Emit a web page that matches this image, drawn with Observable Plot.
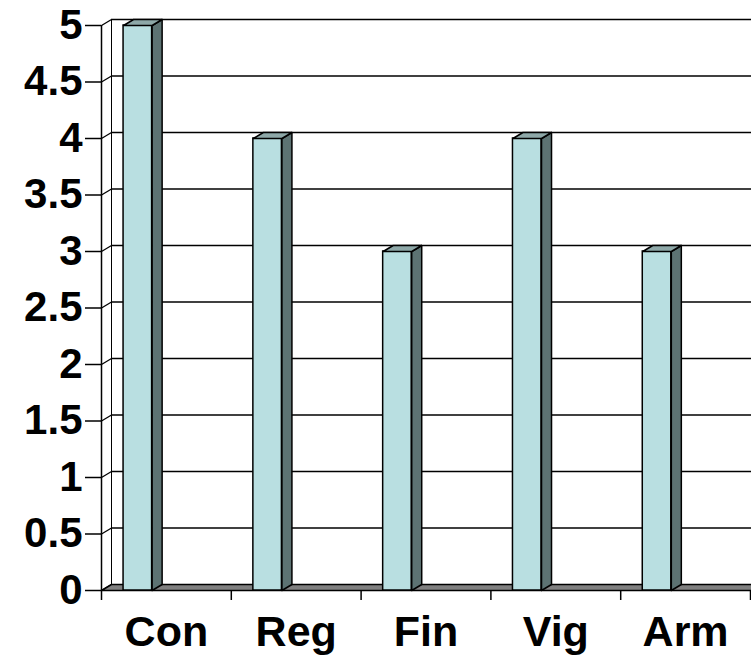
<!DOCTYPE html>
<html><head><meta charset="utf-8">
<script src="https://cdn.jsdelivr.net/npm/d3@7"></script>
<script src="https://cdn.jsdelivr.net/npm/@observablehq/plot@0.6"></script>
<style>body{margin:0;background:#fff} svg{display:block}</style>
</head><body><div id="chart"></div>
<script>
const categories = ["Con", "Reg", "Fin", "Vig", "Arm"];
const values = [5, 4, 3, 4, 3];
const yTicks = [0, 0.5, 1, 1.5, 2, 2.5, 3, 3.5, 4, 4.5, 5];
const yTickLabels = ["0", "0.5", "1", "1.5", "2", "2.5", "3", "3.5", "4", "4.5", "5"];

// layout / style constants
const W = 751, H = 657, ML = 101, MR = 1, MT = 25, MB = 67;
const DEPTH_PX = 10, DEPTH_PY = 6;
const BAR_FROM = 0.17, BAR_TO = 0.39;
const yMax = 5;
const n = categories.length;
const dX = DEPTH_PX / ((W - ML - MR) / n);
const dY = DEPTH_PY / ((H - MT - MB) / yMax);

const bars = categories.map((c, i) => ({c, i, v: values[i], x1: i + BAR_FROM, x2: i + BAR_TO}));
const sidePts = bars.flatMap(b => [
  {id: b.c, x: b.x2, y: 0}, {id: b.c, x: b.x2, y: b.v},
  {id: b.c, x: b.x2 + dX, y: b.v + dY}, {id: b.c, x: b.x2 + dX, y: dY}]);
const topPts = bars.flatMap(b => [
  {id: b.c, x: b.x1, y: b.v}, {id: b.c, x: b.x2, y: b.v},
  {id: b.c, x: b.x2 + dX, y: b.v + dY}, {id: b.c, x: b.x1 + dX, y: b.v + dY}]);
const floorPts = [{x: 0, y: 0}, {x: n + 1, y: 0}, {x: n + 1 + dX, y: dY}, {x: dX, y: dY}];

const plot = Plot.plot({
  width: W, height: H,
  marginLeft: ML, marginRight: MR, marginTop: MT, marginBottom: MB,
  style: {fontFamily: "'Liberation Sans', Arial, sans-serif", color: "black", background: "white", overflow: "hidden"},
  x: {type: "linear", domain: [0, n], label: null},
  y: {domain: [0, yMax], label: null},
  marks: [
    // back wall gridlines
    Plot.ruleY(yTicks.slice(1), {y: d => d + dY, x1: dX, x2: n + 1, stroke: "black", strokeWidth: 1.3}),
    // back wall left edge
    Plot.ruleX([dX], {y1: dY, y2: yMax + dY, stroke: "black", strokeWidth: 1}),
    // left wall diagonals
    Plot.link(yTicks, {x1: 0, y1: d => d, x2: dX, y2: d => d + dY, stroke: "black", strokeWidth: 1.3}),
    // front vertical axis line
    Plot.ruleX([0], {y1: 0, y2: yMax, stroke: "black", strokeWidth: 1.5}),
    // floor
    Plot.line(floorPts, {x: "x", y: "y", curve: "linear-closed", fill: "#808080", stroke: "black", strokeWidth: 1.5}),
    // bars: front, side, top
    Plot.rect(bars, {x1: "x1", x2: "x2", y1: 0, y2: "v", fill: "#b9dfe1", stroke: "black", strokeWidth: 1.5}),
    Plot.line(sidePts, {x: "x", y: "y", z: "id", curve: "linear-closed", fill: "#5d7373", stroke: "black", strokeWidth: 1.5}),
    Plot.line(topPts, {x: "x", y: "y", z: "id", curve: "linear-closed", fill: "#8ea8a8", stroke: "black", strokeWidth: 1.5}),
    // axes
    Plot.axisY(yTicks, {tickSize: 16, tickPadding: 3, tickFormat: d => yTickLabels[yTicks.indexOf(d)],
      fontSize: 42, fontWeight: "bold", stroke: "black", strokeWidth: 1.5, fill: "black", strokeOpacity: 1}),
    Plot.axisX(d3.range(n + 1), {tickSize: 10, tickFormat: () => "", stroke: "black", strokeWidth: 1.5, strokeOpacity: 1}),
    Plot.axisX(d3.range(n).map(i => i + 0.5), {tickSize: 0, tickPadding: 25,
      tickFormat: d => categories[Math.floor(d)], fontSize: 43, fontWeight: "bold", fill: "black"})
  ]
});
document.getElementById("chart").appendChild(plot);
</script>
</body></html>
